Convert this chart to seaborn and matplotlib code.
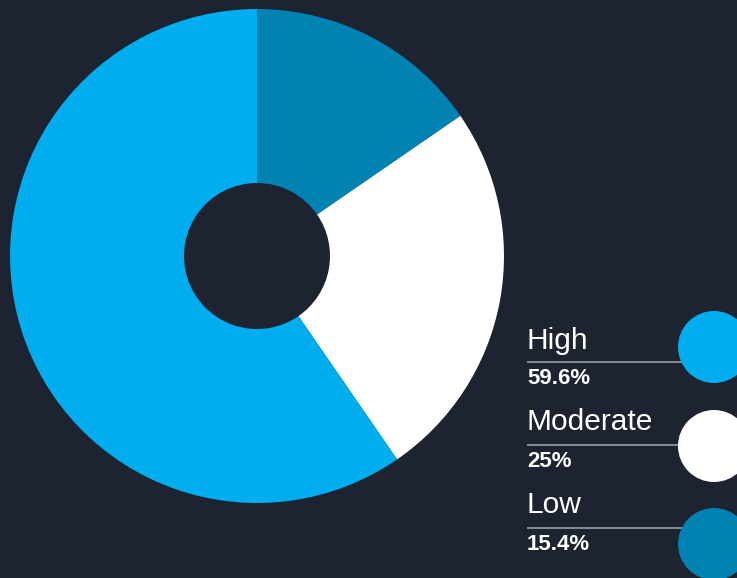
import matplotlib
matplotlib.use('Agg')
import matplotlib.pyplot as plt
from matplotlib.patches import Circle
import seaborn as sns

# data
categories = ['Low', 'Moderate', 'High']
shares = [15.4, 25.0, 59.6]
share_labels = ['15.4%', '25%', '59.6%']
colors = ['#0083b3', '#ffffff', '#00adee']

BG = '#1d2330'

sns.set_theme(style='dark', rc={'figure.facecolor': BG, 'axes.facecolor': BG,
                                 'savefig.facecolor': BG})
plt.rcParams['font.family'] = ['Liberation Sans', 'DejaVu Sans']

W, H = 737, 578
fig = plt.figure(figsize=(W / 100, H / 100), dpi=100)

# donut: centre (257, 256) px, outer radius 247 px, inner 73 px
cx, cy, r_out, r_in = 257, 256, 247, 73
ax = fig.add_axes([(cx - r_out) / W, (H - cy - r_out) / H, 2 * r_out / W, 2 * r_out / H])
ax.pie(shares, colors=colors, startangle=90, counterclock=False, radius=1,
       wedgeprops=dict(width=1 - r_in / r_out, linewidth=0))
ax.set_xlim(-1, 1)
ax.set_ylim(-1, 1)
ax.axis('off')

# legend panel in pixel coordinates
lg = fig.add_axes([0, 0, 1, 1], facecolor='none')
lg.set_xlim(0, W)
lg.set_ylim(H, 0)
lg.axis('off')

rows = [('High', '59.6%', colors[2], 349, 362, 384, 347),
        ('Moderate', '25%', colors[1], 430, 445, 467, 446),
        ('Low', '15.4%', colors[0], 513, 528, 550, 544)]
for name, pct, col, y_name, y_line, y_pct, y_dot in rows:
    lg.text(527, y_name, name, color='white', fontsize=21.5, va='baseline', ha='left')
    lg.plot([527, 690], [y_line, y_line], color='#9a9ea6', lw=1.2, solid_capstyle='butt')
    lg.text(527, y_pct, pct, color='white', fontsize=16, fontweight='bold',
            va='baseline', ha='left')
    lg.add_patch(Circle((714, y_dot), 36, color=col, lw=0, zorder=3))

fig.savefig('out.png', dpi=100, facecolor=BG)
